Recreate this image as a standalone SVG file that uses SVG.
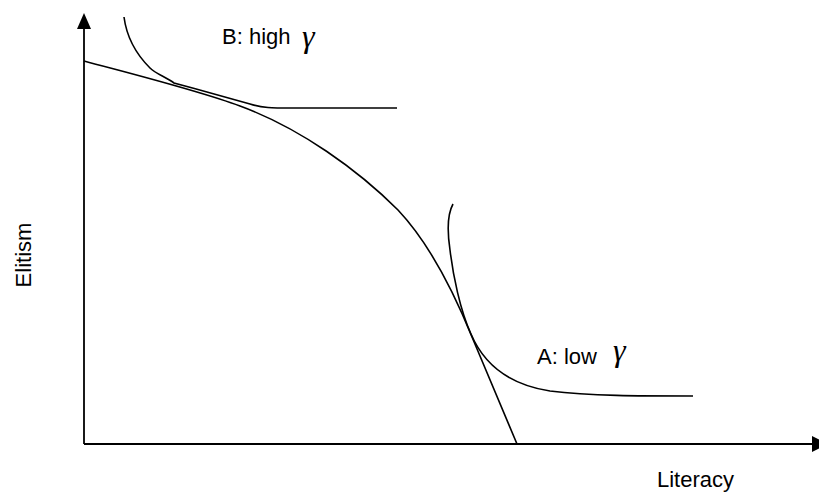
<svg xmlns="http://www.w3.org/2000/svg" width="819" height="493" viewBox="0 0 819 493">
  <style>
    .ln { fill: none; stroke: #000; stroke-width: 1.6; }
    .ax { fill: none; stroke: #000; stroke-width: 1.8; }
    .lbl { font-family: "Liberation Sans", Arial, sans-serif; font-size: 22px; fill: #000; }
    .gam { font-family: "Liberation Serif", "Times New Roman", serif; font-style: italic; font-size: 32px; fill: #000; }
  </style>
  <rect width="819" height="493" fill="#fff"/>
  <g id="axes">
    <line class="ax" x1="84" y1="444" x2="84" y2="26"/>
    <polygon points="84,13 77,29 91,29" fill="#000"/>
    <line class="ax" x1="84" y1="444" x2="814" y2="444"/>
    <polygon points="812,436 812,452 828,444" fill="#000"/>
  </g>
  <g id="frontier">
    <path class="ln" d="M84,61 C140,76 200,91 240,106 C300,128 358,170 398,210 C430,244 455,295 472,337 L517,444"/>
  </g>
  <g id="curve-b">
    <path class="ln" d="M124,17 C127,40 138,56 150,68 C156,74 166,77 174,83 C200,90 228,98 250,104 C262,108 272,108 292,108 L397,108"/>
  </g>
  <g id="curve-a">
    <path class="ln" d="M453,204 C447,215 447,230 450,250 C453,275 460,310 471,334 C482,360 505,384 550,391 C590,396 640,396 693,396"/>
  </g>
  <g id="labels">
    <text class="lbl" x="222" y="44">B: high</text>
    <text class="gam" x="302" y="47">γ</text>
    <text class="lbl" x="537" y="364">A: low</text>
    <text class="gam" x="613" y="361">γ</text>
    <text class="lbl" x="657" y="487">Literacy</text>
    <text class="lbl" text-anchor="middle" transform="translate(31,255) rotate(-90)">Elitism</text>
  </g>
</svg>
